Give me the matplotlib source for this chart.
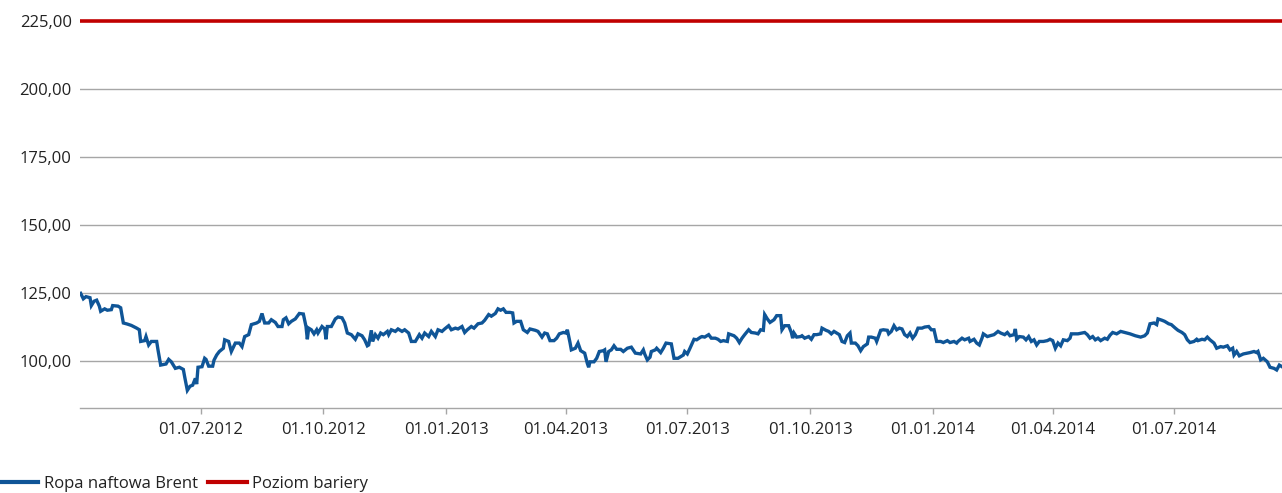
import matplotlib
matplotlib.use("Agg")
import matplotlib.pyplot as plt
import matplotlib.dates as mdates
import matplotlib.ticker as mticker
import numpy as np
import pandas as pd

# ---- data ----
start_date = "2012-04-01"
days = [1, 3, 5, 8, 9, 11, 13, 15, 16, 19, 21, 24, 25, 29, 31, 33, 36, 39, 43, 45, 46, 49, 50, 52, 54, 58, 59, 61, 65, 67,
        69, 72, 75, 78, 79, 81, 83, 85, 87, 88, 89, 92, 94, 95, 97, 100, 101, 103, 105, 108, 109, 112, 114, 117, 120, 122,
        124, 127, 129, 133, 135, 137, 139, 142, 144, 147, 149, 152, 153, 155, 157, 159, 162, 165, 168, 170, 171, 172, 174,
        176, 178, 179, 182, 184, 185, 186, 189, 192, 194, 197, 199, 201, 204, 207, 209, 212, 214, 216, 217, 219, 220, 222,
        224, 226, 228, 231, 232, 234, 237, 239, 242, 244, 247, 249, 252, 255, 257, 259, 262, 264, 267, 269, 272, 274, 277,
        279, 282, 284, 287, 289, 291, 294, 296, 299, 302, 304, 307, 309, 312, 314, 316, 318, 320, 323, 325, 326, 328, 331,
        333, 336, 338, 342, 344, 347, 349, 351, 353, 356, 358, 360, 363, 365, 366, 368, 369, 372, 374, 376, 379, 381, 382,
        383, 386, 388, 390, 393, 394, 395, 397, 399, 401, 403, 406, 408, 411, 414, 417, 421, 423, 424, 426, 428, 429, 432,
        433, 436, 438, 440, 444, 446, 449, 453, 454, 456, 458, 461, 463, 466, 467, 469, 472, 474, 477, 479, 481, 483, 486,
        487, 491, 493, 495, 497, 499, 502, 504, 507, 509, 511, 513, 514, 516, 518, 521, 523, 526, 527, 529, 532, 534, 535,
        536, 538, 541, 542, 544, 547, 549, 551, 553, 556, 557, 560, 562, 564, 566, 568, 570, 572, 574, 576, 578, 579, 582,
        584, 586, 588, 591, 592, 594, 597, 598, 601, 603, 606, 607, 609, 611, 613, 615, 617, 619, 621, 623, 625, 627, 629,
        632, 634, 637, 639, 641, 643, 646, 648, 651, 653, 656, 658, 659, 662, 664, 667, 668, 671, 673, 675, 677, 678, 681,
        683, 686, 689, 691, 694, 696, 698, 701, 702, 703, 705, 708, 710, 712, 714, 716, 718, 720, 723, 726, 728, 730, 732,
        734, 736, 738, 741, 743, 744, 747, 749, 752, 754, 756, 758, 760, 762, 764, 766, 769, 771, 773, 775, 778, 781, 784,
        788, 792, 796, 799, 801, 803, 806, 808, 809, 812, 814, 817, 819, 822, 824, 827, 829, 831, 833, 836, 838, 839, 842,
        844, 846, 848, 851, 853, 856, 858, 861, 863, 865, 866, 868, 870, 873, 876, 878, 881, 883, 884, 886, 888, 891, 893,
        896, 898, 900, 902]
brent = [124.9, 122.9, 123.7, 123.3, 120.4, 122.0, 122.4, 120.2, 118.3, 119.2, 118.7, 118.9, 120.4, 120.2, 119.6, 114.0,
         113.6, 113.1, 112.1, 111.5, 107.2, 107.5, 109.0, 105.9, 107.2, 107.2, 104.1, 98.5, 98.9, 100.6,
         99.7, 97.3, 97.7, 96.9, 94.2, 89.2, 90.7, 91.1, 93.6, 91.5, 97.7, 97.9, 101.0, 100.6, 98.1, 98.1, 100.3, 102.2,
         103.5, 104.7, 107.8, 107.2, 103.5, 106.6, 106.6, 105.3,
         109.0, 109.7, 113.4, 114.0, 114.6, 117.5, 114.0, 114.0, 115.2, 114.2, 112.7, 112.7, 115.2, 115.9, 113.7, 114.6,
         115.5, 117.5, 117.3, 112.7, 108.0, 112.1, 111.5,
         110.0, 111.5, 110.3, 112.7, 111.8, 108.0, 112.7, 112.7, 115.5, 116.2, 115.9, 114.0, 110.3, 109.7, 108.0, 110.0,
         109.3, 107.8, 105.6, 105.9, 111.3, 107.2, 109.7,
         108.4, 110.3, 109.7, 110.9, 109.7, 111.5, 110.9, 111.8, 110.9, 111.5, 110.3, 107.2, 107.2, 109.7, 108.4, 110.3,
         109.0, 110.9, 109.0, 111.5, 110.9, 111.8, 113.0,
         111.5, 112.1, 111.8, 112.7, 110.5, 111.5, 112.7, 112.1, 113.7, 114.0, 115.0, 117.1, 116.5, 117.5, 119.2, 118.7,
         119.2, 117.9, 117.9, 117.7, 114.0, 114.6, 114.6,
         111.5, 110.5, 111.8, 111.3, 110.9, 108.8, 110.3, 110.0, 107.5, 107.5, 108.4, 110.0, 110.5, 110.3, 111.5, 106.8,
         104.1, 104.7, 106.6, 103.8, 102.9, 99.1, 97.7,
         99.7, 99.7, 101.0, 103.5, 103.8, 104.1, 99.7, 103.5, 104.1, 105.6, 104.3, 104.3, 103.5, 104.7, 105.1, 102.9,
         102.6, 104.1, 102.6, 100.4, 101.4, 103.5, 104.1,
         104.7, 103.1, 104.7, 106.6, 106.3, 101.0, 101.0, 102.2, 103.5, 102.6, 104.7, 108.0, 107.8, 108.8, 109.0, 108.8,
         109.7, 108.4, 108.4, 108.0, 107.2, 107.5, 107.2,
         110.0, 109.3, 108.4, 106.8, 108.4, 109.7, 111.5, 110.5, 110.3, 110.0, 111.5, 111.3, 117.1, 115.5, 114.2, 115.2,
         116.7, 116.7, 111.5, 113.0, 113.0, 110.5, 108.4,
         110.3, 108.8, 109.0, 109.3, 108.4, 109.0, 108.0, 109.7, 109.7, 110.0, 112.1, 111.3, 110.9, 110.0, 110.9, 110.3,
         109.7, 107.2, 106.8, 109.3, 110.3, 106.6, 106.6,
         105.6, 103.8, 105.3, 106.3, 108.8, 108.8, 108.4, 107.2, 111.3, 111.5, 111.3, 110.0, 110.9, 113.0, 111.5, 112.1,
         111.8, 109.7, 109.0, 110.3, 108.4, 109.7, 112.1,
         112.1, 112.5, 112.7, 111.5, 111.5, 107.2, 107.2, 106.8, 107.5, 106.8, 107.2, 106.6, 107.2, 108.4, 107.8, 108.4,
         107.2, 108.0, 106.6, 105.9, 108.4, 110.0, 109.0,
         109.3, 109.7, 110.9, 110.3, 109.7, 110.5, 109.3, 109.7, 111.8, 108.0, 109.0, 108.8, 107.8, 109.0, 107.2, 107.8,
         105.9, 107.2, 107.2, 107.5, 108.0, 107.5, 104.7,
         106.6, 105.6, 107.8, 107.5, 108.4, 110.0, 110.0, 110.0, 110.3, 110.5, 109.7, 108.4, 109.0, 107.8, 108.4, 107.5,
         108.4, 108.0, 109.5, 110.5, 110.0, 110.9, 110.5,
         110.0, 109.3, 108.8, 109.3, 110.3, 113.7, 114.0, 113.4, 115.5, 115.0, 114.6, 113.7, 113.4, 112.1, 111.3, 110.5,
         109.7, 107.8, 106.8, 107.2, 108.0, 107.5, 108.0,
         107.8, 108.8, 107.8, 106.6, 104.7, 105.3, 105.1, 105.6, 104.1, 104.7, 102.2, 103.5, 101.9, 102.6, 102.9, 103.1,
         103.5, 103.1, 103.5, 100.4, 101.0, 99.7, 97.7,
         97.3, 96.7, 98.5, 97.9]
barrier_level = 225.0
y_ticks = [100, 125, 150, 175, 200, 225]
x_tick_dates = ["2012-07-01", "2012-10-01", "2013-01-01", "2013-04-01", "2013-07-01",
                "2013-10-01", "2014-01-01", "2014-04-01", "2014-07-01"]
series_labels = ["Ropa naftowa Brent", "Poziom bariery"]

# ---- style ----
plt.rcParams['font.family'] = ['Open Sans', 'DejaVu Sans']
BLUE = "#0f5597"
RED = "#c00000"
GRID = "#a6a6a6"
TXT = "#222222"

dates = pd.Timestamp(start_date) + pd.to_timedelta(days, unit="D")

fig = plt.figure(figsize=(12.82, 4.93), dpi=100)
ax = fig.add_axes([80 / 1282, 85 / 493, 1 - 80 / 1282, 408 / 493])

ax.plot(dates, brent, color=BLUE, lw=2.4, label=series_labels[0], zorder=3, solid_joinstyle='miter')
ax.axhline(barrier_level, color=RED, lw=2.6, label=series_labels[1], zorder=3)

ax.set_ylim(82.7, 232.9)
ax.set_xlim(pd.Timestamp(start_date) + pd.Timedelta(days=0.5), pd.Timestamp(start_date) + pd.Timedelta(days=902))

ax.set_yticks(y_ticks)
ax.yaxis.set_major_formatter(mticker.FuncFormatter(lambda v, p: f"{v:.2f}".replace(".", ",")))
for yv in y_ticks[:-1]:
    ax.axhline(yv, color=GRID, lw=1.0, zorder=1)

ax.set_xticks(pd.to_datetime(x_tick_dates))
ax.xaxis.set_major_formatter(mdates.DateFormatter("%d.%m.%Y"))

for s in ["top", "right", "left"]:
    ax.spines[s].set_visible(False)
ax.spines["bottom"].set_color(GRID)
ax.spines["bottom"].set_linewidth(1.0)

ax.tick_params(axis="y", length=0, pad=6, labelsize=12, labelcolor=TXT)
ax.tick_params(axis="x", length=4, width=1, color=GRID, pad=6, labelsize=12, labelcolor=TXT, direction="out")

leg = fig.legend(loc="lower left", bbox_to_anchor=(0.0, 0.002), ncol=2, frameon=False, fontsize=12,
                 handlelength=2.3, handletextpad=0.35, columnspacing=0.6, borderpad=0, borderaxespad=0)
for t in leg.get_texts():
    t.set_color(TXT)
for h in leg.get_lines():
    h.set_linewidth(3.0)

fig.savefig("out.png", dpi=100)
